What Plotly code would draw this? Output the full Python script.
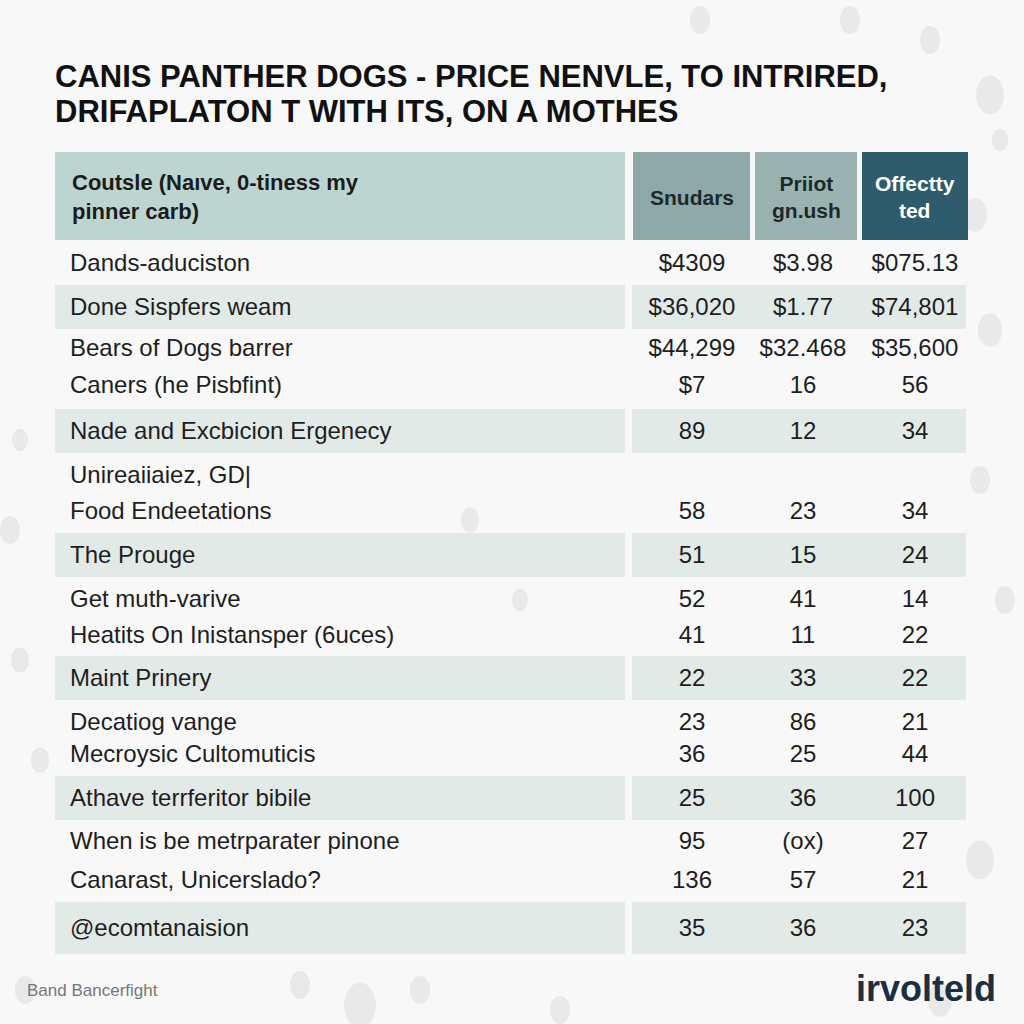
import plotly.graph_objects as go

# ---------------- data ----------------
title_lines = ["CANIS PANTHER DOGS - PRICE NENVLE, TO INTRIRED,",
               "DRIFAPLATON T WITH ITS, ON A MOTHES"]
header_label = "Coutsle (Naıve, 0-tiness my<br>pinner carb)"
col_headers = ["Snudars", "Priiot<br>gn.ush", "Offectty<br>ted"]

row_labels = [
    "Dands-aduciston", "Done Sispfers weam", "Bears of Dogs barrer",
    "Caners (he Pisbfint)", "Nade and Excbicion Ergenecy", "Unireaiiaiez, GD|",
    "Food Endeetations", "The Prouge", "Get muth-varive",
    "Heatits On Inistansper (6uces)", "Maint Prinery", "Decatiog vange",
    "Mecroysic Cultomuticis", "Athave terrferitor bibile",
    "When is be metrparater pinone", "Canarast, Unicerslado?", "@ecomtanaision",
]
col1 = ["$4309", "$36,020", "$44,299", "$7", "89", "", "58", "51", "52", "41",
        "22", "23", "36", "25", "95", "136", "35"]
col2 = ["$3.98", "$1.77", "$32.468", "16", "12", "", "23", "15", "41", "11",
        "33", "86", "25", "36", "(ox)", "57", "36"]
col3 = ["$075.13", "$74,801", "$35,600", "56", "34", "", "34", "24", "14", "22",
        "22", "21", "44", "100", "27", "21", "23"]
footer_left = "Band Bancerfight"
footer_right = "irvolteld"

# ---------------- layout constants ----------------
ROW_Y = [263, 307, 348, 385, 431, 475, 511, 555, 599, 635, 678, 722, 754,
         798, 841, 880, 928]
TEXT_DY = 2
SHADED = {1, 4, 7, 10, 13, 16}
BAND_HALF = [22] * len(ROW_Y)
BAND_HALF[16] = 26
LABEL_X = 70
COL_X = [692, 803, 915]
LABEL_BOX = (55, 625)
VAL_BOX = (632, 966)
HDR_BOXES = [(633, 750), (755, 857), (862, 968)]
HDR_COLORS = ["#8fa9a8", "#9ab3b1", "#2e5c6d"]
HDR_TEXT_COLORS = ["#1b2a2a", "#1b2a2a", "#ffffff"]
BOLD = "Liberation Sans, Arial, sans-serif"
BODY = "Liberation Sans, Arial, sans-serif"

fig = go.Figure()
shapes = []

# faint background blobs
blobs = [(990, 95, 14), (1000, 140, 8), (930, 40, 10), (975, 215, 12), (10, 530, 10),
         (20, 660, 9), (990, 330, 12), (1005, 600, 10), (980, 860, 14), (940, 1000, 12),
         (360, 1005, 16), (300, 985, 10), (420, 990, 10), (25, 990, 10), (560, 1010, 10),
         (700, 20, 10), (470, 520, 9), (520, 600, 8), (20, 440, 8), (40, 760, 9),
         (980, 480, 10), (850, 20, 10)]
for (cx, cy, r) in blobs:
    shapes.append(dict(type="circle", xref="x", yref="y", x0=cx - r, x1=cx + r,
                       y0=cy - r * 1.4, y1=cy + r * 1.4, fillcolor="rgba(200,200,200,0.3)",
                       line=dict(width=0), layer="below"))

# header
shapes.append(dict(type="rect", xref="x", yref="y", x0=55, x1=625, y0=152, y1=240,
                   fillcolor="#bdd5d0", line=dict(width=0), layer="below"))
for (x0, x1), c in zip(HDR_BOXES, HDR_COLORS):
    shapes.append(dict(type="rect", xref="x", yref="y", x0=x0, x1=x1, y0=152, y1=240,
                       fillcolor=c, line=dict(width=0), layer="below"))

# row bands
for i, y in enumerate(ROW_Y):
    if i in SHADED:
        h = BAND_HALF[i]
        for (x0, x1) in (LABEL_BOX, VAL_BOX):
            shapes.append(dict(type="rect", xref="x", yref="y", x0=x0, x1=x1,
                               y0=y - h, y1=y + h, fillcolor="#e2eae8",
                               line=dict(width=0), layer="below"))

text_y = [y + TEXT_DY for y in ROW_Y]
# row labels
fig.add_trace(go.Scatter(
    x=[LABEL_X] * len(row_labels), y=text_y, mode="text", text=row_labels,
    textposition="middle right", hoverinfo="skip",
    textfont=dict(family=BODY, size=24, color="#1e1e1e")))
# values
for cx, vals in zip(COL_X, [col1, col2, col3]):
    fig.add_trace(go.Scatter(
        x=[cx] * len(vals), y=text_y, mode="text", text=vals,
        textposition="middle center", hoverinfo="skip",
        textfont=dict(family=BODY, size=24, color="#1e1e1e")))

annotations = []
annotations.append(dict(x=LABEL_X, y=197, xref="x", yref="y", text="<b>" + header_label + "</b>",
                        showarrow=False, xanchor="left", yanchor="middle", align="left",
                        font=dict(family=BOLD, size=22, color="#1b1b1b")))
for (x0, x1), t, tc in zip(HDR_BOXES, col_headers, HDR_TEXT_COLORS):
    annotations.append(dict(x=(x0 + x1) / 2, y=197, xref="x", yref="y", text="<b>" + t + "</b>",
                            showarrow=False, xanchor="center", yanchor="middle", align="center",
                            font=dict(family=BOLD, size=21, color=tc)))
for k, line in enumerate(title_lines):
    annotations.append(dict(x=53, y=76 + k * 35, xref="x", yref="y", text="<b>" + line + "</b>",
                            showarrow=False, xanchor="left", yanchor="middle",
                            font=dict(family=BOLD, size=31, color="#111111")))
annotations.append(dict(x=25, y=990, xref="x", yref="y", text=footer_left, showarrow=False,
                        xanchor="left", yanchor="middle",
                        font=dict(family=BODY, size=17, color="#777777")))
annotations.append(dict(x=998, y=988, xref="x", yref="y", text="<b>" + footer_right + "</b>",
                        showarrow=False, xanchor="right", yanchor="middle",
                        font=dict(family=BODY, size=36, color="#1c2e42")))

fig.update_layout(
    width=1024, height=1024, margin=dict(l=0, r=0, t=0, b=0),
    paper_bgcolor="#f7f8f7", plot_bgcolor="#f7f8f7", showlegend=False,
    xaxis=dict(range=[0, 1024], visible=False, fixedrange=True),
    yaxis=dict(range=[1024, 0], visible=False, fixedrange=True),
    shapes=shapes, annotations=annotations,
)
fig.write_html("out.html", config={"displayModeBar": False},
               post_script="document.body.style.margin='0';document.body.style.overflow='hidden';")
